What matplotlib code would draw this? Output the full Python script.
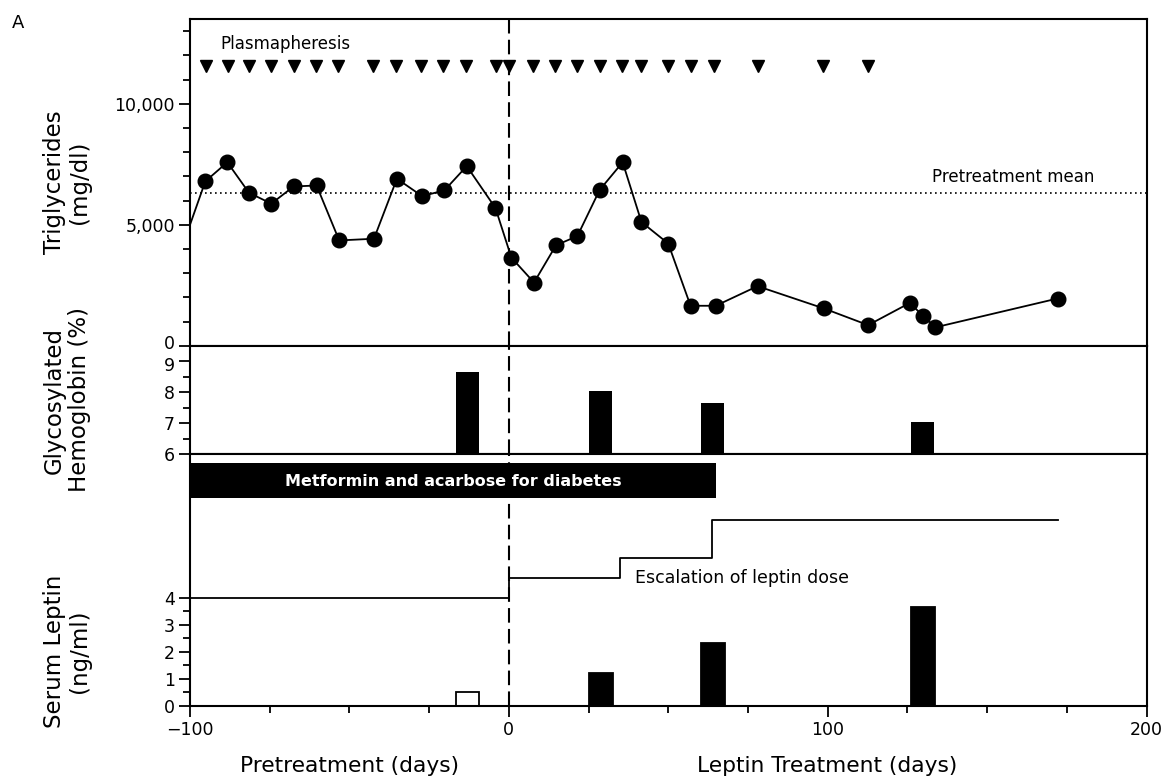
import numpy as np
import matplotlib
matplotlib.use('Agg')
import matplotlib.pyplot as plt
import matplotlib.transforms as mtransforms
from matplotlib.ticker import MultipleLocator, FixedLocator

plt.rcParams['font.family'] = 'DejaVu Sans'

# plasmapheresis sessions (days)
plasma_days = [-95, -88, -81.5, -74.5, -67.5, -60.5, -53.5, -42.5, -35.5, -27.5, -20.5,
               -13.5, -4, 0, 7.5, 14.5, 21.5, 28.5, 35.5, 41.5, 50, 57, 64.5, 78, 98.5, 112.5]
plasma_level = 11550

# triglycerides (mg/dl)
tg_days = [-104, -95.2, -88.3, -81.5, -74.5, -67.5, -60.3, -53.2, -42.3, -35.1, -27.2, -20.2,
           -13.2, -4.2, 0.8, 7.9, 14.8, 21.5, 28.5, 35.7, 41.6, 50.0, 57.0, 64.9, 78.0, 98.8,
           112.7, 125.8, 129.8, 133.8, 172.1]
tg_vals = [3500, 6790, 7580, 6320, 5870, 6580, 6620, 4350, 4420, 6900, 6180, 6420,
           7420, 5690, 3640, 2610, 4150, 4530, 6440, 7580, 5110, 4220, 1650, 1650, 2460, 1540,
           850, 1770, 1240, 760, 1950]
tg_mean = 6330

# glycosylated hemoglobin (%)
hba_days = [-13, 28.8, 63.9, 129.8]
hba_vals = [8.64, 8.03, 7.65, 7.04]

# serum leptin (ng/ml)
lep_days = [-12.9, 28.9, 64.0, 129.9]
lep_vals = [0.49, 1.22, 2.33, 3.64]
lep_open = [True, False, False, False]

# leptin dose escalation step (drawn on leptin axis)
dose_days = [-100, 0, 35, 63.7, 172.1]
dose_level = [4, 4.74, 5.46, 6.88, 6.88]

# metformin period
met_start, met_end = -100, 65

W, H = 1166, 778
fig = plt.figure(figsize=(W / 100, H / 100), dpi=100)
left = 190 / W
width = (1146.5 - 190) / W
ax1 = fig.add_axes([left, 1 - 345.7 / H, width, (345.7 - 19) / H])
ax2 = fig.add_axes([left, 1 - 454 / H, width, (454 - 345.7) / H])
ax3 = fig.add_axes([left, 1 - 705.7 / H, width, (705.7 - 454) / H])

lw_sp = 1.5
for ax in (ax1, ax2, ax3):
    ax.set_xlim(-100, 200)
    for s in ax.spines.values():
        s.set_linewidth(lw_sp)
    ax.tick_params(which='both', direction='out', width=1.3, labelsize=12.5, pad=3)
    ax.tick_params(which='major', length=8)
    ax.tick_params(which='minor', length=5)
    ax.axvline(0, color='black', lw=1.5, linestyle=(0, (7, 3)), zorder=1)

# top panel
ax1.set_ylim(0, 13500)
ax1.yaxis.set_major_locator(FixedLocator([0, 5000, 10000]))
ax1.yaxis.set_minor_locator(FixedLocator([v for v in range(1000, 13001, 1000) if v % 5000]))
ax1.set_yticklabels(['0', '5,000', '10,000'])
ax1.tick_params(axis='x', which='both', bottom=False, labelbottom=False)
ax1.axhline(tg_mean, color='black', lw=1.2, linestyle=(0, (1, 2)))
ax1.plot(tg_days, tg_vals, color='black', lw=1.3, marker='o', markersize=10.5, zorder=3)
ax1.plot(plasma_days, [plasma_level] * len(plasma_days), linestyle='none',
         marker='v', markersize=8.5, color='black')
ax1.text(-90.4, 12250, 'Plasmapheresis', fontsize=12, va='baseline', ha='left')
ax1.text(132.8, 6760, 'Pretreatment mean', fontsize=12, va='baseline', ha='left')

# middle panel
ax2.set_ylim(6, 9.5)
ax2.yaxis.set_major_locator(FixedLocator([6, 7, 8, 9]))
ax2.yaxis.set_minor_locator(FixedLocator([6.5, 7.5, 8.5]))
ax2.tick_params(axis='x', which='both', bottom=False, labelbottom=False)
ax2.bar(hba_days, np.array(hba_vals) - 6, bottom=6, width=7.3, color='black', zorder=2)

# keep the stacked "0" and "9" labels apart
fig.canvas.draw()
up = mtransforms.ScaledTranslation(0, 3 / 72, fig.dpi_scale_trans)
down = mtransforms.ScaledTranslation(0, -2 / 72, fig.dpi_scale_trans)
lab0 = ax1.get_yticklabels()[0]
lab0.set_transform(lab0.get_transform() + up)
lab9 = ax2.get_yticklabels()[-1]
lab9.set_transform(lab9.get_transform() + down)

# bottom panel
ax3.set_ylim(0, 9.32)
ax3.yaxis.set_major_locator(FixedLocator([0, 1, 2, 3, 4]))
ax3.yaxis.set_minor_locator(FixedLocator([0.5, 1.5, 2.5, 3.5]))
ax3.xaxis.set_major_locator(FixedLocator([-100, 0, 100, 200]))
ax3.xaxis.set_minor_locator(MultipleLocator(25))
ax3.set_xticklabels(['\u2212100', '0', '100', '200'])
for d, v, o in zip(lep_days, lep_vals, lep_open):
    ax3.bar(d, v, width=7.3, color='white' if o else 'black', edgecolor='black',
            linewidth=1.3, zorder=2)
ax3.step(dose_days, dose_level, where='post', color='black', lw=1.3)
ax3.barh((7.68 + 8.98) / 2, met_end - met_start, height=8.98 - 7.68, left=met_start,
         color='black', zorder=2)
ax3.text((met_start + met_end) / 2, 8.3, 'Metformin and acarbose for diabetes',
         color='white', fontsize=11.5, fontweight='bold', ha='center', va='center', zorder=3)
ax3.text(39.7, 4.53, 'Escalation of leptin dose', fontsize=12.5, va='baseline', ha='left')

# axis labels
lab_x = 67 / W
fig.text(lab_x, 1 - 182.3 / H, 'Triglycerides\n(mg/dl)', rotation=90, ha='center',
         va='center', fontsize=16.5, linespacing=1.15)
fig.text(lab_x, 1 - 400 / H, 'Glycosylated\nHemoglobin (%)', rotation=90, ha='center',
         va='center', fontsize=16.5, linespacing=1.15)
fig.text(lab_x, 1 - 651.7 / H, 'Serum Leptin\n(ng/ml)', rotation=90, ha='center',
         va='center', fontsize=16.5, linespacing=1.15)
fig.text(349 / W, 1 - 766 / H, 'Pretreatment (days)', ha='center', va='center', fontsize=15.7)
fig.text(827.5 / W, 1 - 766 / H, 'Leptin Treatment (days)', ha='center', va='center',
         fontsize=15.7)
fig.text(12 / W, 1 - 23 / H, 'A', ha='left', va='center', fontsize=13)

fig.savefig('out.png', dpi=100)
